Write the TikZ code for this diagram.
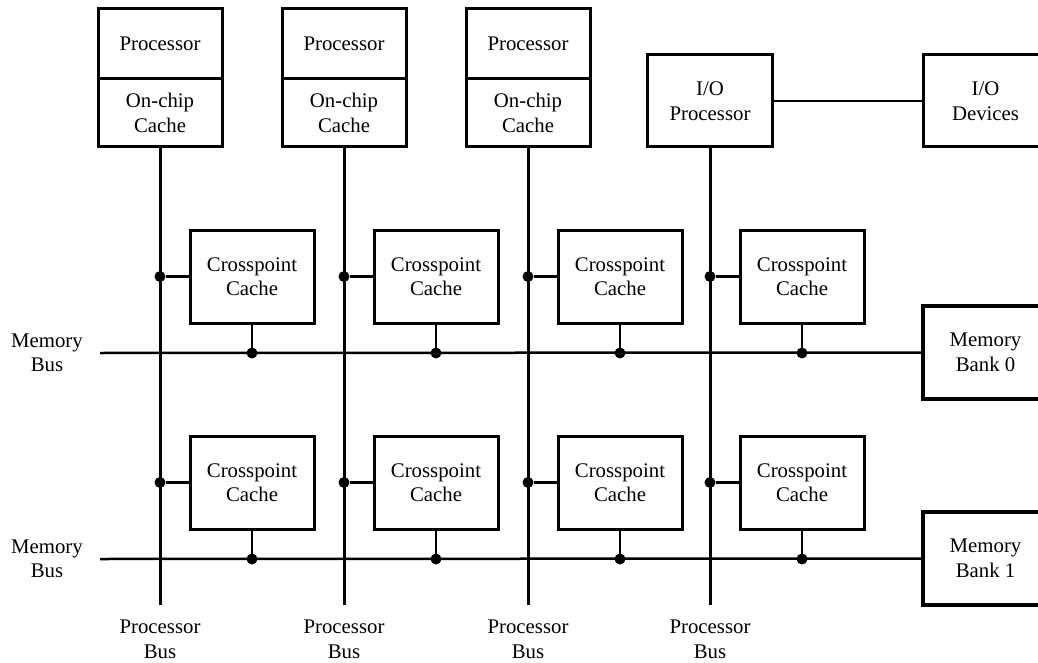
\documentclass[tikz,border=0pt]{standalone}
\usepackage{fontspec}
\setmainfont{Liberation Serif}
\begin{document}
\begin{tikzpicture}[x=1pt,y=-1pt,
  every node/.style={font=\fontsize{20.8}{24.5}\selectfont, align=center, inner sep=0pt},
  box/.style={draw, line width=3pt, outer sep=0pt, minimum width=124pt},
  bank/.style={draw, line width=3.5pt, outer sep=0pt, minimum width=125pt, minimum height=93pt},
  cpc/.style={box, minimum height=93pt},
  bus/.style={line width=2.5pt},
  pbus/.style={line width=3pt},
  dot/.style={circle, fill, inner sep=0pt, outer sep=0pt, minimum size=11pt}]
\useasboundingbox (0,0) rectangle (1038,663);

% processors with on-chip caches
\foreach \i/\x in {1/160,2/344,3/528}{
  \node[box, minimum height=70pt] (p\i) at (\x,44) {Processor};
  \node[box, minimum height=68pt, anchor=north] (c\i) at (p\i.south) {On-chip\\Cache};
}
% I/O side
\node[box, minimum width=125pt, minimum height=92pt] (c4) at (710,101) {I/O\\Processor};
\node[box, minimum width=125pt, minimum height=92pt, anchor=west] (iod) at (923,101) {I/O\\Devices};
\draw[bus] (c4.east) -- (iod.west);

% memory banks
\node[bank, anchor=west] (mb0) at (923,352.5) {Memory\\Bank 0};
\node[bank, anchor=west] (mb1) at (923,558.5) {Memory\\Bank 1};

% memory buses
\node (ml0) at (47,353) {Memory\\Bus};
\node (ml1) at (47,559) {Memory\\Bus};
\coordinate (ms0) at (100,353);
\coordinate (ms1) at (100,559);
\draw[bus] (ms0) -- (mb0.west);
\draw[bus] (ms1) -- (mb1.west);

% processor buses and crosspoint caches
\foreach \i/\x in {1/160,2/344,3/528,4/710}{
  \coordinate (e\i) at (\x,605);
  \draw[pbus] (c\i.south) -- (e\i);
  \node (pl\i) at (\x,639.5) {Processor\\Bus};
  \foreach \r/\cy/\by in {0/276.5/353,1/482.5/559}{
    \node[cpc] (x\i\r) at ({\x+92},\cy) {Crosspoint\\Cache};
    \node[dot] (j\i\r) at (\x,\cy) {};
    \node[dot] (k\i\r) at ({\x+92},\by) {};
    \draw[bus] (j\i\r) -- (x\i\r.west);
    \draw[bus] (x\i\r.south) -- (k\i\r);
  }
}
\end{tikzpicture}
\end{document}
